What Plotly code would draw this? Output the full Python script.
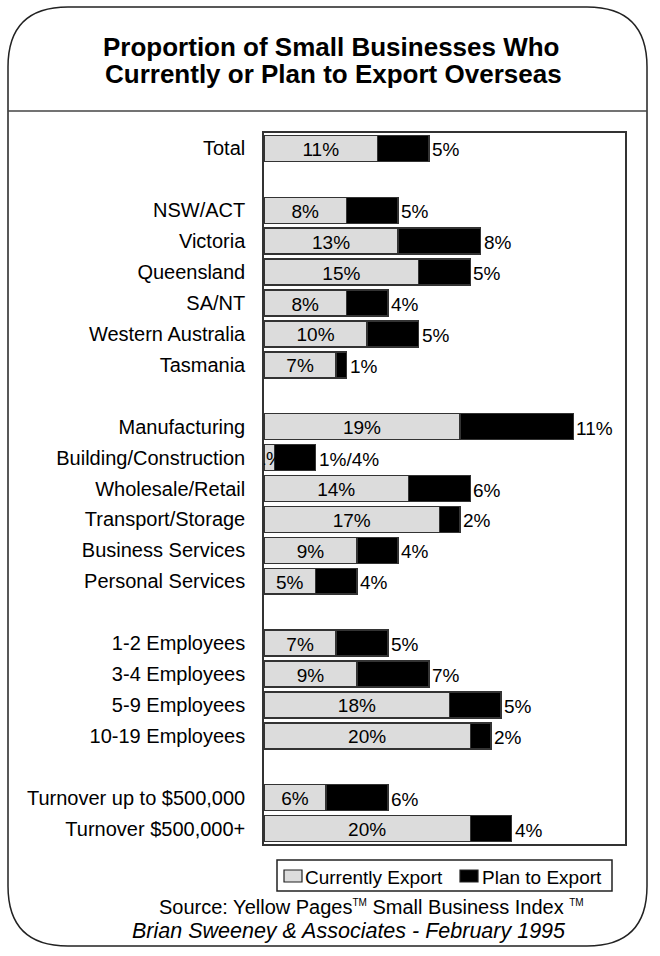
import plotly.graph_objects as go

# Row labels, top to bottom; None marks a blank spacer row between groups
categories = [
    "Total", None,
    "NSW/ACT", "Victoria", "Queensland", "SA/NT", "Western Australia", "Tasmania", None,
    "Manufacturing", "Building/Construction", "Wholesale/Retail", "Transport/Storage",
    "Business Services", "Personal Services", None,
    "1-2 Employees", "3-4 Employees", "5-9 Employees", "10-19 Employees", None,
    "Turnover up to $500,000", "Turnover $500,000+",
]
currently_export = [11, None, 8, 13, 15, 8, 10, 7, None, 19, 1, 14, 17, 9, 5, None,
                    7, 9, 18, 20, None, 6, 20]
plan_to_export = [5, None, 5, 8, 5, 4, 5, 1, None, 11, 4, 6, 2, 4, 4, None,
                  5, 7, 5, 2, None, 6, 4]
series_names = ["Currently Export", "Plan to Export"]

FONT = "Liberation Sans, Arial, sans-serif"
LIGHT, DARK, EDGE = "#DCDCDC", "#000000", "#333333"
W, H = 660, 956
L, R, T, B = 264, 35, 133, 112
PW, PH = W - L - R, H - T - B

positions = list(range(len(categories)))
tick_pos = [p for p, c in zip(positions, categories) if c is not None]
tick_txt = [c for c in categories if c is not None]

# Data rows only (spacer rows carry no bars or labels)
rows = [i for i, c in enumerate(categories) if c is not None]
cur = [currently_export[i] for i in rows]
plan = [plan_to_export[i] for i in rows]
ypos = [positions[i] for i in rows]
TEXT_DROP = 0.09  # nudges value labels slightly below bar centre

cur_label = [f"{c}%" for c in cur]
plan_label = [f"{c}%/{p}%" if c < 2 else f"{p}%" for c, p in zip(cur, plan)]

fig = go.Figure()
fig.add_trace(go.Bar(
    name=series_names[0], orientation="h", x=cur, y=ypos, width=0.84,
    marker=dict(color=LIGHT, line=dict(color=EDGE, width=1.5)),
    hoverinfo="skip", showlegend=False,
))
fig.add_trace(go.Bar(
    name=series_names[1], orientation="h", x=plan, y=ypos, width=0.84,
    marker=dict(color=DARK, line=dict(color=EDGE, width=1.5)),
    hoverinfo="skip", showlegend=False,
))
# Current share centred in the grey segment (clipped at the axis)
fig.add_trace(go.Scatter(
    x=[c / 2 for c in cur], y=[y + TEXT_DROP for y in ypos], mode="text",
    text=cur_label, textposition="middle center",
    textfont=dict(family=FONT, size=19, color="black"),
    cliponaxis=True, hoverinfo="skip", showlegend=False,
))


def px(x):
    return (x - L) / PW


def py(y):
    return (H - B - y) / PH


def rect(xa, ya, xb, yb, fill, line_color, lw):
    return dict(type="rect", xref="paper", yref="paper",
                x0=px(xa), x1=px(xb), y0=py(ya), y1=py(yb),
                fillcolor=fill, line=dict(color=line_color, width=lw))


# Rounded outer frame
x0, x1, y0, y1, r = 8, 647, 7, 946, 60
frame = (
    f"M{px(x0 + r)},{py(y0)} L{px(x1 - r)},{py(y0)} "
    f"Q{px(x1)},{py(y0)} {px(x1)},{py(y0 + r)} "
    f"L{px(x1)},{py(y1 - r)} Q{px(x1)},{py(y1)} {px(x1 - r)},{py(y1)} "
    f"L{px(x0 + r)},{py(y1)} Q{px(x0)},{py(y1)} {px(x0)},{py(y1 - r)} "
    f"L{px(x0)},{py(y0 + r)} Q{px(x0)},{py(y0)} {px(x0 + r)},{py(y0)} Z"
)
shapes = [
    dict(type="path", xref="paper", yref="paper", path=frame,
         line=dict(color="#222222", width=1.5), layer="below"),
    dict(type="line", xref="paper", yref="paper",
         x0=px(x0), x1=px(x1), y0=py(111), y1=py(111),
         line=dict(color="#444444", width=1.5)),
    # legend box and swatches
    rect(277, 860, 612, 891, "white", "#222222", 1.5),
    rect(284, 870, 302, 882, LIGHT, "#222222", 1.2),
    rect(460, 870, 478, 882, DARK, "#222222", 1.2),
]

annotations = [
    dict(text="<b>Proportion of Small Businesses Who</b>", x=px(331), y=py(47),
         xref="paper", yref="paper", showarrow=False, xanchor="center", yanchor="middle",
         font=dict(family=FONT, size=26, color="black")),
    dict(text="<b>Currently or Plan to Export Overseas</b>", x=px(333), y=py(74),
         xref="paper", yref="paper", showarrow=False, xanchor="center", yanchor="middle",
         font=dict(family=FONT, size=26, color="black")),
    dict(text=series_names[0], x=px(303), y=py(877), xref="paper", yref="paper",
         showarrow=False, xanchor="left", yanchor="middle",
         font=dict(family=FONT, size=19, color="black")),
    dict(text=series_names[1], x=px(480), y=py(877), xref="paper", yref="paper",
         showarrow=False, xanchor="left", yanchor="middle",
         font=dict(family=FONT, size=19, color="black")),
    dict(text="Source: Yellow Pages<sup><span style='font-size:10px'>TM</span></sup> "
              "Small Business Index <sup><span style='font-size:10px'>TM</span></sup>",
         x=px(371), y=py(907), xref="paper", yref="paper", showarrow=False,
         xanchor="center", yanchor="middle",
         font=dict(family=FONT, size=20, color="black")),
    dict(text="<i>Brian Sweeney & Associates - February 1995</i>",
         x=px(349), y=py(931), xref="paper", yref="paper", showarrow=False,
         xanchor="center", yanchor="middle",
         font=dict(family=FONT, size=21.5, color="black")),
]

# Planned share written just past the end of each stacked bar
for c, p, y, lab in zip(cur, plan, ypos, plan_label):
    annotations.append(dict(
        text=lab, x=c + p, y=y, xref="x", yref="y", showarrow=False,
        xanchor="left", yanchor="middle", xshift=1, yshift=-1.5,
        font=dict(family=FONT, size=19, color="black"),
    ))

fig.update_layout(
    width=W, height=H,
    margin=dict(l=L, r=R, t=T, b=B),
    paper_bgcolor="white", plot_bgcolor="white",
    barmode="stack", bargap=0.16,
    showlegend=False,
    shapes=shapes, annotations=annotations,
    font=dict(family=FONT, size=19, color="black"),
)
fig.update_xaxes(range=[0, 35], showticklabels=False, ticks="", showgrid=False,
                 zeroline=False, showline=True, mirror=True,
                 linecolor=EDGE, linewidth=1.5, fixedrange=True)
fig.update_yaxes(range=[len(categories) - 0.5, -0.5], tickmode="array",
                 tickvals=tick_pos, ticktext=tick_txt, ticks="", showgrid=False,
                 zeroline=False, showline=True, mirror=True,
                 linecolor=EDGE, linewidth=1.5, ticklabelstandoff=13,
                 tickfont=dict(family=FONT, size=20, color="black"), fixedrange=True)

fig.write_html("out.html", config={"displayModeBar": False})
